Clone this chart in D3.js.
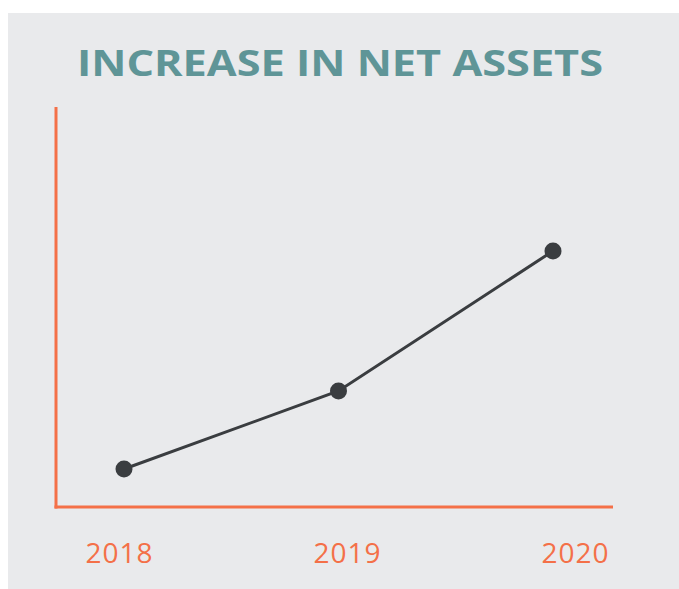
<!DOCTYPE html>
<html>
<head>
<meta charset="utf-8">
<script src="https://cdn.jsdelivr.net/npm/d3@7"></script>
<style>
html,body{margin:0;padding:0;background:#ffffff;}
svg{display:block;}
</style>
</head>
<body>
<script>
const years = ["2018", "2019", "2020"];
const netAssets = [0.95, 2.9, 6.4];
const titleText = "INCREASE IN NET ASSETS";

const W = 679, H = 589;
const svg = d3.select("body").append("svg").attr("width", W).attr("height", H);

svg.append("rect").attr("x", 8).attr("y", 13).attr("width", W - 8).attr("height", H - 13)
  .attr("fill", "#e9eaec");

svg.append("text")
  .attr("x", 340).attr("y", 75.5)
  .attr("text-anchor", "middle")
  .attr("font-family", "'Open Sans', sans-serif")
  .attr("font-weight", 700)
  .attr("font-size", 35)
  .attr("textLength", 526)
  .attr("lengthAdjust", "spacingAndGlyphs")
  .attr("fill", "#5f9597")
  .text(titleText);

const x = d3.scalePoint().domain(years).range([124, 553]);
const xLabel = d3.scalePoint().domain(years).range([119, 575]);
const y = d3.scaleLinear().domain([0, 10]).range([507, 107]);

const orange = "#f47048";

// axes
svg.append("line").attr("x1", 56).attr("x2", 56).attr("y1", y(10)).attr("y2", y(0) + 1.5)
  .attr("stroke", orange).attr("stroke-width", 3);
svg.append("line").attr("x1", 54.5).attr("x2", 613).attr("y1", y(0)).attr("y2", y(0))
  .attr("stroke", orange).attr("stroke-width", 3);

const xAxis = d3.axisBottom(xLabel).tickSize(0).tickPadding(0);
const gx = svg.append("g").attr("transform", `translate(0,${y(0) + 56})`).call(xAxis);
gx.select(".domain").remove();
gx.selectAll("text")
  .attr("dy", 0)
  .attr("font-family", "'Open Sans', sans-serif")
  .attr("font-size", 28)
  .attr("letter-spacing", 1)
  .attr("fill", orange);

const data = years.map((d, i) => ({year: d, value: netAssets[i]}));
const line = d3.line().x(d => x(d.year)).y(d => y(d.value));
svg.append("path").datum(data).attr("d", line)
  .attr("fill", "none").attr("stroke", "#3a3d40").attr("stroke-width", 3);
svg.selectAll("circle.pt").data(data).enter().append("circle")
  .attr("class", "pt")
  .attr("cx", d => x(d.year)).attr("cy", d => y(d.value)).attr("r", 8.5)
  .attr("fill", "#3a3d40");
</script>
</body>
</html>
